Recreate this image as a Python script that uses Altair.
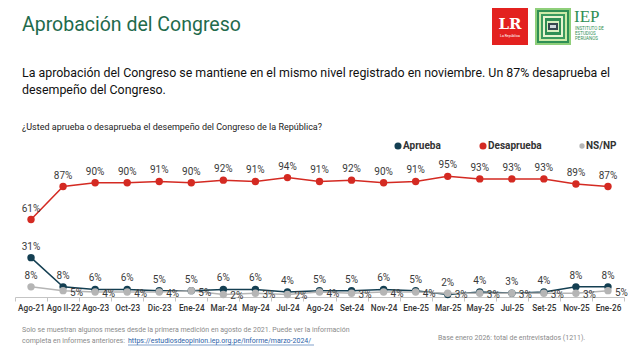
import altair as alt
import pandas as pd

months = ["Ago-21", "Ago II-22", "Ago-23", "Oct-23", "Dic-23", "Ene-24", "Mar-24",
          "May-24", "Jul-24", "Ago-24", "Set-24", "Nov-24", "Ene-25", "Mar-25",
          "May-25", "Jul-25", "Set-25", "Nov-25", "Ene-26"]
aprueba = [31, 8, 6, 6, 5, 5, 6, 6, 4, 5, 5, 6, 5, 2, 4, 3, 4, 8, 8]
desaprueba = [61, 87, 90, 90, 91, 90, 92, 91, 94, 91, 92, 90, 91, 95, 93, 93, 93, 89, 87]
nsnp = [8, 5, 4, 4, 4, 5, 2, 3, 2, 4, 3, 4, 4, 3, 3, 3, 3, 3, 5]

series_names = ["Aprueba", "Desaprueba", "NS/NP"]
series_colors = ["#143f52", "#d42a22", "#b5b5b5"]

rows = []
for name, vals in zip(series_names, [aprueba, desaprueba, nsnp]):
    for i, (m, v) in enumerate(zip(months, vals)):
        rows.append({"mes": m, "serie": name, "valor": v, "idx": i,
                     "etiqueta": f"{v}%", "orden": series_names.index(name)})
df = pd.DataFrame(rows)

FONT = "Roboto"

x_enc = alt.X("mes:N", sort=months, bandPosition=0.5,
              scale=alt.Scale(type="band", paddingInner=0, paddingOuter=0),
              axis=alt.Axis(title=None, labelAngle=0, labelFontSize=8.2,
                            labelColor="#333333", labelFont=FONT, labelFontWeight=500,
                            domainColor="#c4c4c4", tickColor="#c4c4c4", tickSize=4,
                            tickBand="extent", labelPadding=3))
y_enc = alt.Y("valor:Q", scale=alt.Scale(domain=[0, 100]), axis=None)
color_scale = alt.Scale(domain=series_names, range=series_colors)

base = alt.Chart(df)

lines = base.mark_line(strokeWidth=1.5).encode(
    x=x_enc, y=y_enc,
    color=alt.Color("serie:N", scale=color_scale, legend=None),
    detail="serie:N",
    order=alt.Order("idx:Q"),
)

points = base.mark_point(filled=True, size=55, opacity=1).encode(
    x=x_enc, y=y_enc,
    color=alt.Color("serie:N", scale=color_scale, legend=None),
    order=alt.Order("orden:Q"),
)

lbl_above = base.transform_filter(
    "datum.serie != 'NS/NP' || datum.idx == 0"
).mark_text(dy=-11, fontSize=10, font=FONT, color="#3a3a3a").encode(
    x=x_enc, y=y_enc, text="etiqueta:N")

lbl_right = base.transform_filter(
    "datum.serie == 'NS/NP' && datum.idx > 0"
).mark_text(align="left", dx=7, dy=2, fontSize=10, font=FONT, color="#3a3a3a").encode(
    x=x_enc, y=y_enc, text="etiqueta:N")

one = pd.DataFrame({"a": [0]})


def txt(text, x, y, size, color, weight="normal", align="left", font=FONT):
    return alt.Chart(one).mark_text(text=text, fontSize=size, font=font, color=color,
                                    fontWeight=weight, align=align, baseline="middle").encode(
        x=alt.value(x), y=alt.value(y))


def box(x1, x2, y1, y2, color):
    return alt.Chart(one).mark_rect(color=color).encode(
        x=alt.value(x1), x2=alt.value(x2), y=alt.value(y1), y2=alt.value(y2))


def dot(x, y, color, size):
    return alt.Chart(one).mark_point(filled=True, opacity=1, color=color, size=size).encode(
        x=alt.value(x), y=alt.value(y))


OX, OY = 15, 170
legend = [
    dot(398 - OX, 146 - OY, series_colors[0], 50),
    txt(series_names[0], 403 - OX, 146 - OY, 10, "#333333", "bold"),
    dot(483 - OX, 146 - OY, series_colors[1], 50),
    txt(series_names[1], 488 - OX, 146 - OY, 10, "#333333", "bold"),
    dot(582 - OX, 146 - OY, series_colors[2], 28),
    txt(series_names[2], 586 - OX, 146 - OY, 10, "#333333", "bold"),
]

deco = [
    txt("Aprobación del Congreso", 22 - OX, 25 - OY, 19.5, "#1f6b4c"),
    txt("La aprobación del Congreso se mantiene en el mismo nivel registrado en noviembre. Un 87% desaprueba el",
        22 - OX, 73 - OY, 12.4, "#111111"),
    txt("desempeño del Congreso.", 22 - OX, 90 - OY, 12.4, "#111111"),
    txt("¿Usted aprueba o desaprueba el desempeño del Congreso de la República?",
        22 - OX, 127 - OY, 9, "#222222"),
    txt("Solo se muestran algunos meses desde la primera medición en agosto de 2021. Puede ver la información",
        22 - OX, 330 - OY, 7, "#8a8a8a"),
    txt("completa en informes anteriores: ", 22 - OX, 341 - OY, 7, "#8a8a8a"),
    txt("https://estudiosdeopinion.iep.org.pe/informe/marzo-2024/", 128 - OX, 341 - OY, 7, "#2b62a8"),
    alt.Chart(one).mark_rule(color="#2b62a8", strokeWidth=0.6).encode(
        x=alt.value(128 - OX), x2=alt.value(314 - OX), y=alt.value(345 - OY)),
    txt("Base enero 2026: total de entrevistados (1211).", 438 - OX, 338 - OY, 7, "#8a8a8a"),
    # LR logo
    box(492 - OX, 528 - OX, 8 - OY, 45 - OY, "#e3211f"),
    txt("LR", 510 - OX, 24 - OY, 15, "#ffffff", "bold", "center", "DejaVu Serif"),
    txt("La República", 510 - OX, 36 - OY, 3.5, "#ffffff", "normal", "center"),
    # IEP logo
    box(535 - OX, 571 - OX, 8 - OY, 45 - OY, "#8fcf7a"),
    box(537 - OX, 569 - OX, 10 - OY, 43 - OY, "#2f8f55"),
    box(539 - OX, 567 - OX, 12 - OY, 41 - OY, "#cdeaa8"),
    box(541 - OX, 565 - OX, 14 - OY, 39 - OY, "#3a9a5e"),
    box(543 - OX, 563 - OX, 16 - OY, 37 - OY, "#e7f4cf"),
    box(545 - OX, 561 - OX, 18 - OY, 35 - OY, "#2f8f55"),
    box(547 - OX, 559 - OX, 21 - OY, 32 - OY, "#d9efc0"),
    box(548 - OX, 558 - OX, 23 - OY, 30 - OY, "#37474f"),
    box(550 - OX, 556 - OX, 25 - OY, 28 - OY, "#cfd8dc"),
    txt("IEP", 574 - OX, 17 - OY, 17, "#2f8f55", "normal", "left", "Liberation Serif"),
    txt("INSTITUTO DE", 575 - OX, 29 - OY, 4.5, "#2f8f55"),
    txt("ESTUDIOS", 575 - OX, 34 - OY, 4.5, "#2f8f55"),
    txt("PERUANOS", 575 - OX, 39 - OY, 4.5, "#2f8f55"),
]

chart = alt.layer(lines, points, lbl_above, lbl_right, *legend, *deco).properties(
    width=609, height=127,
    padding={"left": OX, "top": OY, "right": 16, "bottom": 55},
    autosize=alt.AutoSizeParams(type="none"),
    background="white",
).configure_view(stroke=None)

chart.save("out.html", embed_options={"renderer": "svg", "actions": False})
